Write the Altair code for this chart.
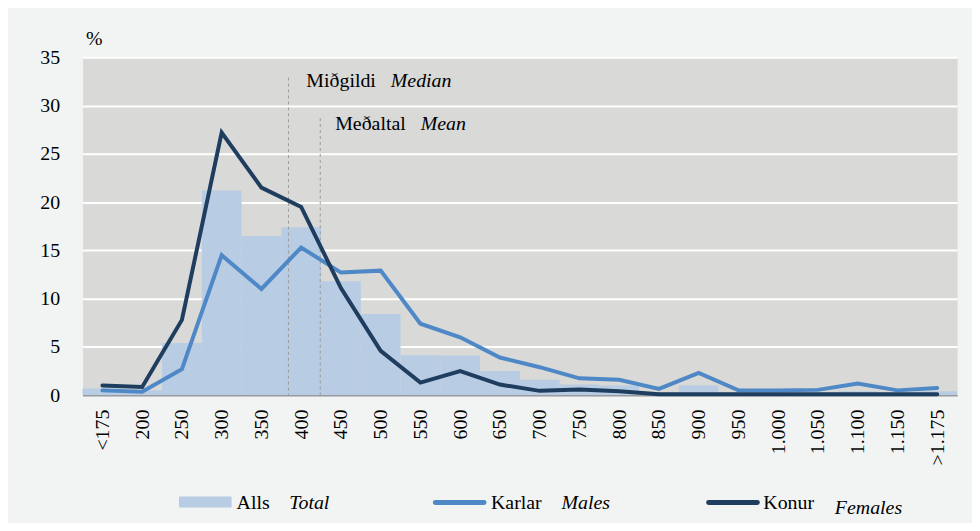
import json
import altair as alt
import pandas as pd

# ---- data ----
categories = ["<175", "200", "250", "300", "350", "400", "450", "500", "550", "600",
              "650", "700", "750", "800", "850", "900", "950", "1.000", "1.050",
              "1.100", "1.150", ">1.175"]
x_pos = [150, 200, 250, 300, 350, 400, 450, 500, 550, 600, 650, 700, 750, 800,
         850, 900, 950, 1000, 1050, 1100, 1150, 1200]
total = [0.7, 0.5, 5.4, 21.2, 16.5, 17.4, 11.8, 8.4, 4.15, 4.1, 2.5, 1.6, 1.1, 1.0,
         0.3, 1.0, 0.3, 0.3, 0.3, 0.4, 0.3, 0.4]
males = [0.5, 0.35, 2.7, 14.5, 11.0, 15.3, 12.7, 12.9, 7.4, 6.0, 3.9, 2.9, 1.75, 1.6,
         0.65, 2.3, 0.5, 0.5, 0.55, 1.2, 0.5, 0.75]
females = [1.0, 0.85, 7.8, 27.2, 21.5, 19.5, 11.1, 4.6, 1.3, 2.5, 1.1, 0.45, 0.6, 0.4,
           0.1, 0.1, 0.1, 0.1, 0.1, 0.1, 0.1, 0.1]

ann_value = [384, 424]          # median, mean
ann_top = [32.9, 28.7]
ann_label_y = [32.5, 28.1]
ann_is = ["Miðgildi", "Meðaltal"]
ann_en = ["Median", "Mean"]
ann_dx_is = [18, 15]
ann_dx_en = [103, 101]

legend_is = ["Alls", "Karlar", "Konur"]
legend_en = ["Total", "Males", "Females"]

C_TOTAL = "#b8cce4"
C_MALES = "#4f88c6"
C_FEMALES = "#1f3d5f"
FONT = "Liberation Serif, Times New Roman, DejaVu Serif, serif"

df = pd.DataFrame({"cat": categories, "x": x_pos, "total": total,
                   "males": males, "females": females})
ann = pd.DataFrame({"value": ann_value, "top": ann_top, "ly": ann_label_y,
                    "is": ann_is, "en": ann_en})

x_scale = alt.Scale(domain=[125, 1225], nice=False, zero=False)
y_scale = alt.Scale(domain=[0, 35], nice=False)

label_expr = json.dumps(categories) + "[round((datum.value - 150) / 50)]"
x_axis = alt.Axis(values=x_pos, labelExpr=label_expr, labelAngle=270,
                  labelFont=FONT, labelFontSize=20, labelColor="black",
                  labelPadding=14, labelBaseline="middle", ticks=False,
                  grid=False, domain=True, domainColor="#8c8c8c", domainWidth=1.5)
y_axis = alt.Axis(values=list(range(0, 36, 5)), title="%", titleAngle=0,
                  titleX=3, titleY=-13, titleAlign="left", titleBaseline="alphabetic",
                  titleFont=FONT, titleFontSize=20, titleFontWeight="normal",
                  titleColor="black", labelFont=FONT, labelFontSize=20,
                  labelColor="black", labelPadding=23, ticks=False, domain=False,
                  grid=True, gridColor="white", gridWidth=2)

base = alt.Chart(df)

bars = base.transform_calculate(
    x0="datum.x - 25", x1="datum.x + 25"
).mark_rect(color=C_TOTAL).encode(
    x=alt.X("x0:Q", scale=x_scale, axis=x_axis, title=None),
    x2="x1:Q",
    y=alt.Y("total:Q", scale=y_scale, axis=y_axis, title="%"),
    y2=alt.datum(0),
)

rules = alt.Chart(ann).mark_rule(color="#9a9a9a", strokeDash=[3, 3], strokeWidth=1).encode(
    x=alt.X("value:Q", scale=x_scale, axis=x_axis, title=None),
    y=alt.Y("top:Q", scale=y_scale, axis=y_axis, title="%"),
    y2=alt.datum(0),
)

line_m = base.mark_line(color=C_MALES, strokeWidth=4, strokeCap="round").encode(
    x=alt.X("x:Q", scale=x_scale, axis=x_axis, title=None),
    y=alt.Y("males:Q", scale=y_scale, axis=y_axis, title="%"),
)
line_f = base.mark_line(color=C_FEMALES, strokeWidth=4, strokeCap="round").encode(
    x=alt.X("x:Q", scale=x_scale, axis=x_axis, title=None),
    y=alt.Y("females:Q", scale=y_scale, axis=y_axis, title="%"),
)

texts = []
for i in range(len(ann_value)):
    one = alt.Chart(ann).transform_filter(f"datum.value == {ann_value[i]}")
    texts.append(one.mark_text(font=FONT, fontSize=20, align="left", baseline="middle",
                               dx=ann_dx_is[i], color="black").encode(
        x=alt.X("value:Q", scale=x_scale, axis=x_axis, title=None),
        y=alt.Y("ly:Q", scale=y_scale, axis=y_axis, title="%"),
        text="is:N"))
    texts.append(one.mark_text(font=FONT, fontSize=20, fontStyle="italic", align="left",
                               baseline="middle", dx=ann_dx_en[i], color="black").encode(
        x=alt.X("value:Q", scale=x_scale, axis=x_axis, title=None),
        y=alt.Y("ly:Q", scale=y_scale, axis=y_axis, title="%"),
        text="en:N"))

# ---- custom legend (mixed upright / italic labels) below the plot ----
leg_df = pd.DataFrame({"is": legend_is, "en": legend_en})
legend_layers = []
sw_x = [97, 353, 628]
txt_is_x = [155, 411, 685]
txt_en_x = [208, 482, 757]
txt_en_y = [455, 455, 460]
for i in range(3):
    one = alt.Chart(leg_df).transform_filter(f"datum['is'] == '{legend_is[i]}'")
    if i == 0:
        legend_layers.append(one.mark_rect(color=C_TOTAL).encode(
            x=alt.value(sw_x[i]), x2=alt.value(sw_x[i] + 53),
            y=alt.value(442), y2=alt.value(453)))
    else:
        col = C_MALES if i == 1 else C_FEMALES
        legend_layers.append(one.mark_rule(color=col, strokeWidth=5, strokeCap="round").encode(
            x=alt.value(sw_x[i] + 2), x2=alt.value(sw_x[i] + 51), y=alt.value(448)))
    legend_layers.append(one.mark_text(font=FONT, fontSize=20, align="left",
                                       baseline="alphabetic", color="black").encode(
        x=alt.value(txt_is_x[i]), y=alt.value(455), text="is:N"))
    legend_layers.append(one.mark_text(font=FONT, fontSize=20, fontStyle="italic",
                                       align="left", baseline="alphabetic",
                                       color="black").encode(
        x=alt.value(txt_en_x[i]), y=alt.value(txt_en_y[i]), text="en:N"))

chart = alt.layer(bars, rules, line_m, line_f, *texts, *legend_layers).properties(
    width=880, height=340,
    autosize=alt.AutoSizeParams(type="none"),
    padding={"left": 75, "top": 48, "right": 15, "bottom": 127},
    background="#f2f4f3",
).configure_view(fill="#d9d9d7", stroke="transparent")

chart.save("out.html", embed_options={"renderer": "svg", "actions": False})
